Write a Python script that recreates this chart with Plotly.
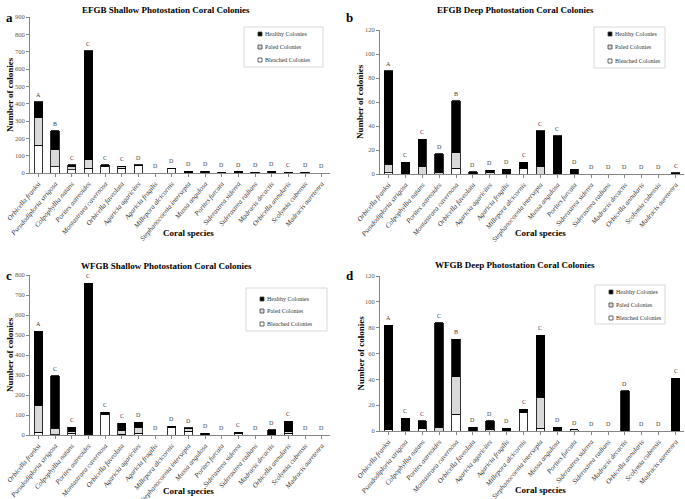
import plotly.graph_objects as go

species = ["Orbicella franksi", "Pseudodiploria strigosa", "Colpophyllia natans",
           "Porites astreoides", "Montastraea cavernosa", "Orbicella faveolata",
           "Agaricia agaricites", "Agaricia fragilis", "Millepora alcicornis",
           "Stephanocoenia intersepta", "Mussa angulosa", "Porites furcata",
           "Siderastrea siderea", "Siderastrea radians", "Madracis decactis",
           "Orbicella annularis", "Scolymia cubensis", "Madracis auretenra"]

# Panel a: EFGB Shallow
a_bleached = [160, 37, 20, 28, 38, 28, 42, 0, 26, 3, 4, 0, 3, 0, 0, 1, 0, 0]
a_paled = [160, 100, 15, 48, 4, 8, 1, 0, 0, 2, 3, 0, 3, 0, 1, 0, 0, 0]
a_healthy = [90, 106, 13, 628, 5, 4, 5, 0, 2, 5, 3, 3, 2, 3, 10, 4, 4, 0]
a_letters = ["A", "B", "C", "C", "C", "C", "D", "D", "D", "D", "D", "D", "D", "D", "D", "C", "D", "D"]

# Panel b: EFGB Deep
b_bleached = [1, 0, 0, 0, 5, 0, 0, 0, 5, 0, 0, 0, 0, 0, 0, 0, 0, 0]
b_paled = [7, 0, 6, 1, 13, 0, 1, 0, 0, 6, 0, 0, 0, 0, 0, 0, 0, 0]
b_healthy = [78, 10, 23, 16, 43, 2, 2, 4, 5, 30, 32, 4, 0, 0, 0, 0, 0, 1]
b_letters = ["A", "C", "C", "D", "B", "D", "D", "D", "C", "C", "C", "D", "D", "D", "D", "D", "D", "C"]

# Panel c: WFGB Shallow
c_bleached = [15, 2, 10, 3, 103, 3, 8, 0, 38, 18, 0, 0, 10, 0, 0, 10, 0, 0]
c_paled = [133, 33, 10, 7, 7, 20, 30, 0, 2, 14, 2, 0, 3, 0, 0, 7, 0, 0]
c_healthy = [372, 261, 20, 750, 4, 35, 25, 0, 4, 4, 8, 0, 2, 0, 27, 51, 0, 0]
c_letters = ["A", "C", "C", "C", "C", "C", "D", "D", "D", "D", "D", "D", "C", "D", "D", "C", "D", "D"]

# Panel d: WFGB Deep
d_bleached = [1, 0, 2, 0, 13, 0, 0, 0, 14, 2, 0, 0, 0, 0, 0, 0, 0, 0]
d_paled = [0, 0, 0, 3, 29, 0, 1, 0, 0, 24, 0, 1, 0, 0, 0, 0, 0, 0]
d_healthy = [81, 10, 6, 81, 29, 3, 7, 2, 3, 48, 3, 0, 0, 0, 31, 0, 0, 41]
d_letters = ["A", "C", "C", "C", "B", "D", "D", "D", "C", "C", "D", "D", "D", "D", "D", "D", "D", "C"]

series_names = ["Healthy Colonies", "Paled Colonies", "Bleached Colonies"]
titles = ["EFGB Shallow Photostation Coral Colonies", "EFGB Deep Photostation Coral Colonies",
          "WFGB Shallow Photostation Coral Colonies", "WFGB Deep Photostation Coral Colonies"]
panel_letters = ["a", "b", "c", "d"]
y_max = [900, 120, 800, 120]
y_step = [100, 20, 100, 20]

W, H = 685, 499
SERIF = "Liberation Serif"
COLORS = {"Healthy Colonies": "#000000", "Paled Colonies": "#d9d9d9", "Bleached Colonies": "#ffffff"}


def px(x):
    return x / W


def py(y):
    return 1 - y / H


# pixel layout per panel: (x0, x1, ytop, ybottom)
boxes = [(30, 330, 17, 173), (380, 684, 30, 174), (30, 330, 275, 435), (380, 684, 276, 431)]
legend_box = [(244, 323, 27, 67), (594, 665, 27, 68), (246, 327, 288, 331), (595, 665, 285, 324)]
legend_rows = [(34, 47, 60), (34, 47, 61), (299, 311, 324), (292, 305, 318)]
title_pos = [(166, 10), (515, 10), (166, 266), (515, 265)]
letter_pos = [(4, 17), (344, 17), (4, 275), (344, 275)]
xtitle_y = [233, 233, 491, 490]

data = [(a_bleached, a_paled, a_healthy, a_letters),
        (b_bleached, b_paled, b_healthy, b_letters),
        (c_bleached, c_paled, c_healthy, c_letters),
        (d_bleached, d_paled, d_healthy, d_letters)]

fig = go.Figure()
annotations = []
shapes = []
layout_axes = {}

for i, (bl, pa, he, let) in enumerate(data):
    sfx = "" if i == 0 else str(i + 1)
    xa, ya = "x" + sfx, "y" + sfx
    for name, vals in [("Bleached Colonies", bl), ("Paled Colonies", pa), ("Healthy Colonies", he)]:
        fig.add_trace(go.Bar(x=species, y=vals, name=name, xaxis=xa, yaxis=ya,
                             marker=dict(color=COLORS[name], line=dict(color="#000000", width=0.8)),
                             showlegend=False))
    totals = [b + p + h for b, p, h in zip(bl, pa, he)]
    for sp, t, l in zip(species, totals, let):
        annotations.append(dict(x=sp, y=t, xref=xa, yref=ya, text=l, showarrow=False,
                                yanchor="bottom", yshift=2,
                                font=dict(family=SERIF, size=6, color="#404040")))
    x0, x1, yt, yb = boxes[i]
    layout_axes["xaxis" + sfx] = dict(
        domain=[px(x0), px(x1)], anchor=ya, type="category", automargin=False,
        showline=True, linecolor="#868686", linewidth=1,
        ticks="outside", ticklen=3, tickcolor="#868686",
        tickangle=-50, tickfont=dict(family=SERIF, size=7, color="#333333", style="italic"),
        showgrid=False, zeroline=False)
    layout_axes["yaxis" + sfx] = dict(
        domain=[py(yb), py(yt)], anchor=xa, range=[0, y_max[i]], dtick=y_step[i], automargin=False,
        showline=True, linecolor="#868686", linewidth=1,
        ticks="outside", ticklen=3, tickcolor="#868686",
        tickfont=dict(family=SERIF, size=6.5, color="#595959"),
        showgrid=False, zeroline=False)

    # legend drawn as a bordered box with swatches and labels
    lx0, lx1, ly0, ly1 = legend_box[i]
    shapes.append(dict(type="rect", xref="paper", yref="paper", x0=px(lx0), x1=px(lx1),
                       y0=py(ly1), y1=py(ly0), line=dict(color="#d9d9d9", width=1),
                       fillcolor="#ffffff", layer="above"))
    sx = lx0 + 14
    for name, ry in zip(series_names, legend_rows[i]):
        shapes.append(dict(type="rect", xref="paper", yref="paper", x0=px(sx), x1=px(sx + 4),
                           y0=py(ry + 2), y1=py(ry - 2), line=dict(color="#404040", width=0.8),
                           fillcolor=COLORS[name], layer="above"))
        annotations.append(dict(x=px(sx + 4.5), y=py(ry), xref="paper", yref="paper", text=name,
                                showarrow=False, xanchor="left", yanchor="middle",
                                font=dict(family=SERIF, size=6, color="#333333")))

    tx, ty = title_pos[i]
    annotations.append(dict(x=px(tx), y=py(ty), xref="paper", yref="paper", text="<b>" + titles[i] + "</b>",
                            showarrow=False, xanchor="center", yanchor="middle",
                            font=dict(family=SERIF, size=9, color="#000000")))
    lxp, lyp = letter_pos[i]
    annotations.append(dict(x=px(lxp), y=py(lyp), xref="paper", yref="paper", text="<b>" + panel_letters[i] + "</b>",
                            showarrow=False, xanchor="left", yanchor="middle",
                            font=dict(family=SERIF, size=13, color="#000000")))
    annotations.append(dict(x=px((x0 + x1) / 2 + 8), y=py(xtitle_y[i]), xref="paper", yref="paper",
                            text="<b>Coral species</b>", showarrow=False, xanchor="center", yanchor="middle",
                            font=dict(family=SERIF, size=9, color="#000000")))
    annotations.append(dict(x=px(x0 - 20), y=py((yt + yb) / 2), xref="paper", yref="paper",
                            text="<b>Number of colonies</b>", showarrow=False, textangle=-90,
                            xanchor="center", yanchor="middle",
                            font=dict(family=SERIF, size=9, color="#000000")))

fig.update_layout(width=W, height=H, autosize=False, margin=dict(l=0, r=0, t=0, b=0, autoexpand=False),
                  paper_bgcolor="#ffffff", plot_bgcolor="#ffffff", barmode="stack", bargap=0.5,
                  showlegend=False, annotations=annotations, shapes=shapes, **layout_axes)

fig.write_html("out.html", config={"displayModeBar": False},
               post_script="document.body.style.margin='0';document.body.style.overflow='hidden';")
